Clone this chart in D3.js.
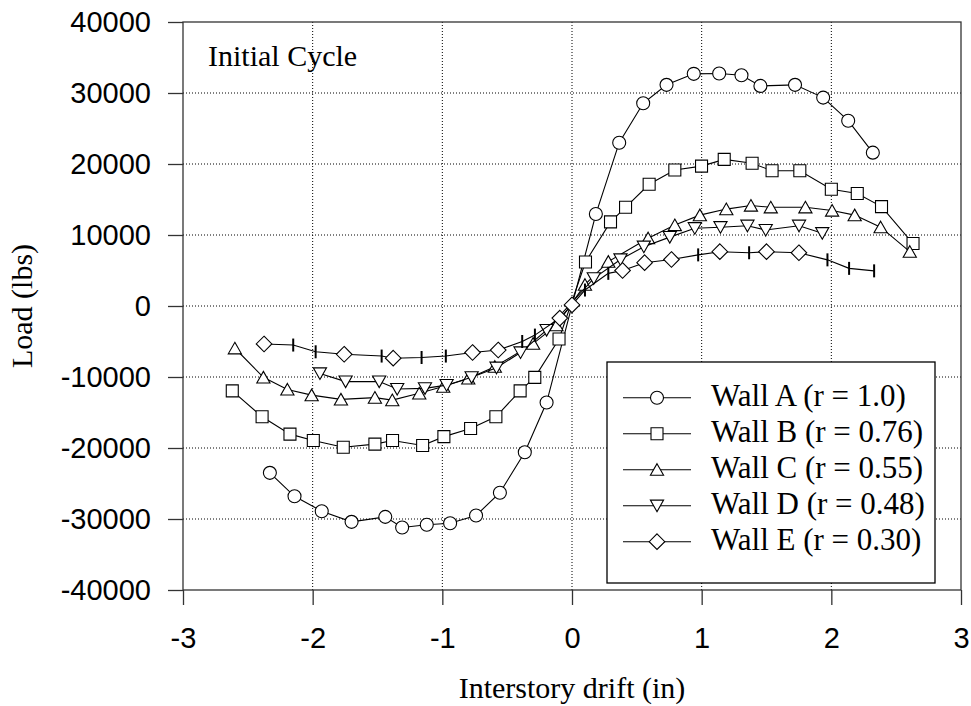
<!DOCTYPE html>
<html>
<head>
<meta charset="utf-8">
<script src="https://cdn.jsdelivr.net/npm/d3@7"></script>
<style>
  body { margin: 0; background: #fff; }
  svg { display: block; }
</style>
</head>
<body>
<div id="chart"></div>
<script>
// drift (in), load (lbs)
const wallA = [[-2.33, -23500], [-2.14, -26800], [-1.93, -28900], [-1.70, -30400], [-1.44, -29700],
    [-1.31, -31200], [-1.12, -30800], [-0.94, -30600], [-0.74, -29500], [-0.556, -26300],
    [-0.364, -20600], [-0.196, -13600], [0.184, 12950], [0.364, 23000], [0.549, 28550],
    [0.729, 31150], [0.939, 32700], [1.135, 32750], [1.307, 32500], [1.453, 31000],
    [1.72, 31150], [1.937, 29350], [2.13, 26100], [2.32, 21600]];
const wallB = [[-2.62, -11950], [-2.39, -15600], [-2.175, -18050], [-1.995, -18950], [-1.764, -19900],
    [-1.52, -19450], [-1.384, -18950], [-1.152, -19650], [-0.988, -18400], [-0.782, -17250],
    [-0.587, -15600], [-0.40, -11950], [-0.287, -10050], [-0.10, -4650], [0.104, 6200],
    [0.297, 11850], [0.413, 13900], [0.595, 17150], [0.793, 19150], [0.999, 19700],
    [1.174, 20650], [1.389, 20100], [1.543, 19050], [1.757, 19050], [2.0, 16450],
    [2.2, 15850], [2.387, 14000], [2.63, 8800]];
const wallC = [[-2.60, -5950], [-2.38, -10050], [-2.195, -11750], [-2.008, -12550], [-1.782, -13150],
    [-1.52, -12900], [-1.386, -13250], [-1.178, -12300], [-0.993, -11350], [-0.80, -10200],
    [-0.595, -8550], [-0.30, -5300], [-0.12, -2700], [0.1, 3000], [0.28, 6250],
    [0.587, 9550], [0.793, 11400], [0.986, 12800], [1.19, 13650], [1.38, 14150],
    [1.533, 13900], [1.80, 13900], [2.006, 13450], [2.18, 12800], [2.38, 11100], [2.605, 7650]];
const wallD = [[-1.944, -9500], [-1.746, -10650], [-1.487, -10650], [-1.348, -11700], [-1.134, -11600],
    [-0.967, -11150], [-0.774, -10050], [-0.582, -8700], [-0.397, -6550], [-0.196, -3400],
    [0.168, 3900], [0.374, 6550], [0.554, 8350], [0.754, 9700], [0.947, 10950],
    [1.145, 11100], [1.353, 11300], [1.494, 10700], [1.751, 11300], [1.93, 10250]];
// wall E has diamond symbols on some points and plain tick marks on the rest
const wallEDiamonds = [[-2.375, -5350], [-1.757, -6800], [-1.379, -7350], [-0.767, -6550], [-0.569, -6200],
    [-0.094, -1700], [0, 150], [0.39, 5000], [0.56, 6100], [0.767, 6550],
    [1.14, 7650], [1.50, 7650], [1.75, 7500]];
const wallETicks = [[-2.15, -5500], [-1.977, -6450], [-1.468, -7050], [-1.16, -7250], [-0.973, -7050],
    [-0.384, -5000], [-0.286, -4100], [0.1, 2250], [0.28, 4600], [0.973, 7200],
    [1.366, 7500], [1.97, 6500], [2.137, 5300], [2.33, 4950]];

const seriesNames = ['Wall A (r = 1.0)', 'Wall B (r = 0.76)', 'Wall C (r = 0.55)',
    'Wall D (r = 0.48)', 'Wall E (r = 0.30)'];
const seriesMarkers = ['circle', 'square', 'triUp', 'triDown', 'diamond'];
const xTicks = [-3, -2, -1, 0, 1, 2, 3];
const yTicks = [-40000, -30000, -20000, -10000, 0, 10000, 20000, 30000, 40000];

const width = 971;
const height = 706;
const plot = { left: 183, right: 961, top: 22, bottom: 590 };

const svg = d3.select('#chart').append('svg')
    .attr('width', width)
    .attr('height', height);

const x = d3.scaleLinear().domain([-3, 3]).range([plot.left, plot.right]);
const y = d3.scaleLinear().domain([-40000, 40000]).range([plot.bottom, plot.top]);

// dotted grid
const grid = svg.append('g');
grid.selectAll('.gx')
    .data(xTicks.slice(1, -1))
    .enter().append('line')
    .attr('x1', d => x(d)).attr('x2', d => x(d))
    .attr('y1', plot.top).attr('y2', plot.bottom)
    .attr('stroke', '#000').attr('stroke-width', 1).attr('stroke-dasharray', '1,2');
grid.selectAll('.gy')
    .data(yTicks.slice(1, -1))
    .enter().append('line')
    .attr('y1', d => y(d)).attr('y2', d => y(d))
    .attr('x1', plot.left).attr('x2', plot.right)
    .attr('stroke', '#000').attr('stroke-width', 1).attr('stroke-dasharray', '1,2');

// axes (plain hyphen for negatives, like the original)
const plain = d => String(d);
const xAxis = svg.append('g')
    .attr('transform', `translate(0,${plot.bottom})`)
    .call(d3.axisBottom(x).tickValues(xTicks).tickSize(15).tickSizeOuter(0).tickPadding(22).tickFormat(plain));
const yAxis = svg.append('g')
    .attr('transform', `translate(${plot.left},0)`)
    .call(d3.axisLeft(y).tickValues(yTicks).tickSize(15).tickSizeOuter(0).tickPadding(17).tickFormat(plain));

[xAxis, yAxis].forEach(ax => {
    ax.select('.domain').remove();
    ax.selectAll('line').attr('stroke', '#333').attr('stroke-width', 1.3);
    ax.selectAll('text')
        .attr('fill', '#000')
        .style('font-family', '"Liberation Sans", Arial, sans-serif')
        .style('font-size', '29px');
});

svg.append('rect')
    .attr('x', plot.left).attr('y', plot.top)
    .attr('width', plot.right - plot.left).attr('height', plot.bottom - plot.top)
    .attr('fill', 'none').attr('stroke', '#333').attr('stroke-width', 1.3);

// marker shapes
function markerPath(type) {
    switch (type) {
    case 'circle': return 'M6.5,0A6.5,6.5,0,1,1,-6.5,0A6.5,6.5,0,1,1,6.5,0Z';
    case 'square': return 'M-6,-6H6V6H-6Z';
    case 'triUp': return 'M0,-6L6.6,5.6H-6.6Z';
    case 'triDown': return 'M0,6L6.6,-5.6H-6.6Z';
    case 'diamond': return 'M0,-7.8L7.8,0L0,7.8L-7.8,0Z';
    case 'tick': return 'M0,-6.5V6.5';
    default: return '';
    }
}

const line = d3.line().x(d => x(d[0])).y(d => y(d[1]));
const wallE = wallEDiamonds.concat(wallETicks).sort((a, b) => a[0] - b[0]);
const allSeries = [wallA, wallB, wallC, wallD, wallE];
const marks = svg.append('g');

allSeries.forEach((data, i) => {
    const g = marks.append('g');
    g.append('path')
        .datum(data)
        .attr('d', line)
        .attr('fill', 'none')
        .attr('stroke', '#000')
        .attr('stroke-width', 1.1);
    const pts = i === 4 ? wallEDiamonds : data;
    g.selectAll('.m')
        .data(pts)
        .enter().append('path')
        .attr('transform', d => `translate(${x(d[0])},${y(d[1])})`)
        .attr('d', markerPath(seriesMarkers[i]))
        .attr('fill', '#fff')
        .attr('stroke', '#000')
        .attr('stroke-width', 1.1);
    if (i === 4) {
        g.selectAll('.t')
            .data(wallETicks)
            .enter().append('path')
            .attr('transform', d => `translate(${x(d[0])},${y(d[1])})`)
            .attr('d', markerPath('tick'))
            .attr('fill', 'none')
            .attr('stroke', '#000')
            .attr('stroke-width', 2);
    }
});

// labels
const serif = '"Liberation Serif", "Times New Roman", serif';
svg.append('text')
    .attr('x', 208).attr('y', 66)
    .style('font-family', serif).style('font-size', '30px')
    .text('Initial Cycle');

svg.append('text')
    .attr('x', (plot.left + plot.right) / 2).attr('y', 698)
    .attr('text-anchor', 'middle')
    .style('font-family', serif).style('font-size', '30px')
    .text('Interstory drift (in)');

svg.append('text')
    .attr('transform', `translate(32,${(plot.top + plot.bottom) / 2}) rotate(-90)`)
    .attr('text-anchor', 'middle')
    .style('font-family', serif).style('font-size', '30px')
    .text('Load (lbs)');

// legend
const legend = svg.append('g');
legend.append('rect')
    .attr('x', 607).attr('y', 362)
    .attr('width', 328).attr('height', 221)
    .attr('fill', '#fff').attr('stroke', '#000').attr('stroke-width', 1.3);

seriesNames.forEach((name, i) => {
    const cy = 397.7 + i * 36;
    legend.append('line')
        .attr('x1', 623).attr('x2', 691)
        .attr('y1', cy).attr('y2', cy)
        .attr('stroke', '#000').attr('stroke-width', 1.1);
    legend.append('path')
        .attr('transform', `translate(657,${cy})`)
        .attr('d', markerPath(seriesMarkers[i]))
        .attr('fill', '#fff').attr('stroke', '#000').attr('stroke-width', 1.1);
    legend.append('text')
        .attr('x', 711).attr('y', cy + 8)
        .style('font-family', serif).style('font-size', '31px')
        .text(name);
});
</script>
</body>
</html>
